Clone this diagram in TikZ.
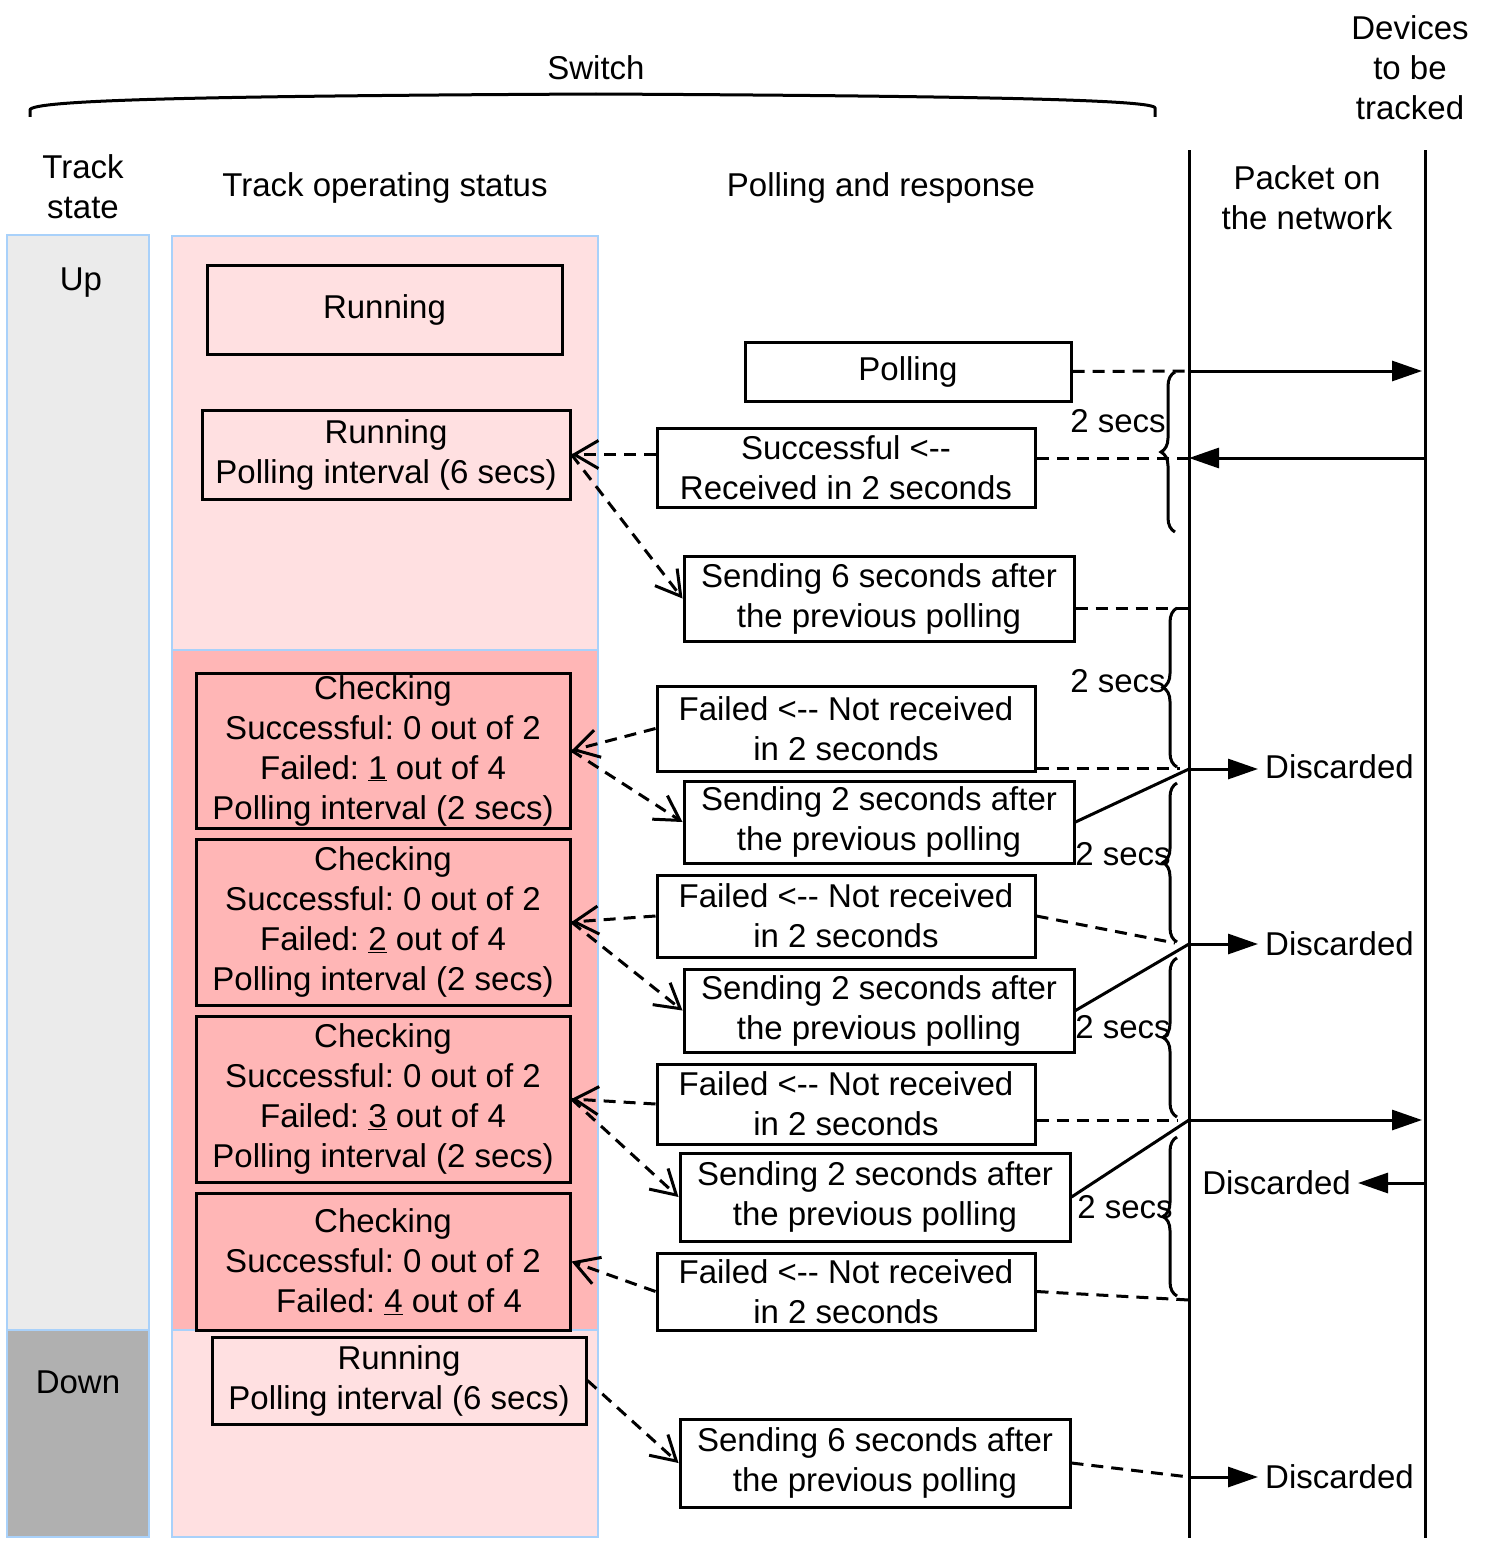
\documentclass[tikz,border=0pt]{standalone}
\usepackage{fontspec}
\setmainfont{Liberation Sans}
\usetikzlibrary{arrows.meta,decorations.pathreplacing,calc}
\definecolor{upgray}{HTML}{EBEBEB}
\definecolor{downgray}{HTML}{B0B0B0}
\definecolor{lpink}{HTML}{FFE0E1}
\definecolor{dpink}{HTML}{FFB6B6}
\definecolor{regborder}{HTML}{A9D1FA}
\frenchspacing
\begin{document}
\begin{tikzpicture}[x=1pt,y=-1pt,
  every node/.style={font=\fontsize{33}{40}\selectfont},
  region/.style={draw=regborder, line width=2.5pt},
  sbox/.style={draw=black, line width=3pt, align=center, inner sep=0pt, anchor=center},
  dline/.style={line width=3pt, dash pattern=on 12pt off 8pt},
  dconn/.style={dline, -{Straight Barb[length=24pt,width=28pt]}},
  sline/.style={line width=3pt},
  sarrow/.style={line width=3pt, -{Triangle[length=30pt,width=20pt]}},
  tbrace/.style={decorate, decoration={brace, amplitude=14pt}, line width=3pt},
  lbl/.style={inner sep=0pt, align=center}
]
\useasboundingbox (0,0) rectangle (1484,1544);

% header
\node[lbl] (switch) at (596,68) {Switch};
\draw[line width=3pt] (30,117) -- (30,110) .. controls (30,100) and (200,96) .. (596,94)
  .. controls (990,96) and (1155,100) .. (1155,108) -- (1155,117);
\node[lbl] (devices) at (1410,68) {Devices\\to be\\tracked};
\node[lbl] (trackstate) at (83,187) {Track\\state};
\node[lbl] (tos) at (385,188) {Track operating status};
\node[lbl] (par) at (881,188) {Polling and response};
\node[lbl] (pkt) at (1307,198) {Packet on\\the network};

% vertical lines
\coordinate (v1t) at (1189,150); \coordinate (v1b) at (1189,1538);
\coordinate (v2t) at (1425,150); \coordinate (v2b) at (1425,1538);
\draw[sline] (v1t) -- (v1b);
\draw[sline] (v2t) -- (v2b);

% regions
\path[region, fill=upgray] (7,235) rectangle (149,1330);
\path[region, fill=downgray] (7,1330) rectangle (149,1537);
\path[region, fill=lpink] (172,236) rectangle (598,650);
\path[region, fill=dpink] (172,650) rectangle (598,1330);
\path[region, fill=lpink] (172,1330) rectangle (598,1537);
\node[lbl] (up) at (81,283) {Up};
\node[lbl] (down) at (78,1382) {Down};

% status boxes
\node[sbox, fill=lpink, minimum width=355pt, minimum height=89pt] (run1) at (384.5,309.5) {Running};
\node[sbox, fill=lpink, minimum width=368pt, minimum height=89pt] (run2) at (386,454.5) {Running\\Polling interval (6 secs)};
\node[sbox, fill=dpink, minimum width=374pt, minimum height=155pt] (chk1) at (383,750.5) {Checking\\Successful: 0 out of 2\\Failed: \underline{1} out of 4\\Polling interval (2 secs)};
\node[sbox, fill=dpink, minimum width=374pt, minimum height=166pt] (chk2) at (383,922) {Checking\\Successful: 0 out of 2\\Failed: \underline{2} out of 4\\Polling interval (2 secs)};
\node[sbox, fill=dpink, minimum width=374pt, minimum height=166pt] (chk3) at (383,1099) {Checking\\Successful: 0 out of 2\\Failed: \underline{3} out of 4\\Polling interval (2 secs)};
\node[sbox, fill=dpink, minimum width=374pt, minimum height=137pt] (chk4) at (383,1261.5) {Checking\\Successful: 0 out of 2\\\hspace*{32pt}Failed: \underline{4} out of 4};
\node[sbox, fill=lpink, minimum width=374pt, minimum height=87pt] (run3) at (399,1380.5) {Running\\Polling interval (6 secs)};

% polling boxes
\node[sbox, fill=white, minimum width=326pt, minimum height=59pt] (poll) at (908,371.5) {Polling};
\node[sbox, fill=white, minimum width=378pt, minimum height=79pt] (succ) at (846,467.5) {Successful <-{}-\\Received in 2 seconds};
\node[sbox, fill=white, minimum width=390pt, minimum height=85pt] (send6) at (879,598.5) {Sending 6 seconds after\\the previous polling};
\node[sbox, fill=white, minimum width=378pt, minimum height=85pt] (fail1) at (846,728.5) {Failed <-{}- Not received\\in 2 seconds};
\node[sbox, fill=white, minimum width=390pt, minimum height=82pt] (send2a) at (879,822) {Sending 2 seconds after\\the previous polling};
\node[sbox, fill=white, minimum width=378pt, minimum height=82pt] (fail2) at (846,916) {Failed <-{}- Not received\\in 2 seconds};
\node[sbox, fill=white, minimum width=390pt, minimum height=83pt] (send2b) at (879,1010.5) {Sending 2 seconds after\\the previous polling};
\node[sbox, fill=white, minimum width=378pt, minimum height=80pt] (fail3) at (846,1104) {Failed <-{}- Not received\\in 2 seconds};
\node[sbox, fill=white, minimum width=390pt, minimum height=88pt] (send2c) at (875,1197) {Sending 2 seconds after\\the previous polling};
\node[sbox, fill=white, minimum width=378pt, minimum height=77pt] (fail4) at (846,1291.5) {Failed <-{}- Not received\\in 2 seconds};
\node[sbox, fill=white, minimum width=390pt, minimum height=88pt] (send6b) at (875,1463) {Sending 6 seconds after\\the previous polling};

% left dashed connectors
\draw[dconn] (succ.west |- run2.east) -- (run2.east);
\draw[dconn] (run2.east) -- (send6.west);
\draw[dconn] (fail1.west) -- (chk1.east);
\draw[dconn] (chk1.east) -- (send2a.west);
\draw[dconn] (fail2.west) -- (chk2.east);
\draw[dconn] (chk2.east) -- (send2b.west);
\draw[dconn] (fail3.west) -- (chk3.east);
\draw[dconn] (chk3.east) -- (send2c.west);
\draw[dconn] (fail4.west) -- (chk4.east);
\draw[dconn] (run3.east) -- (send6b.west);

% right side
\coordinate (p0) at (1189,371); \coordinate (p1) at (1422,371);
\draw[dline] (poll.east) -- (p0);
\draw[sarrow] (p0) -- (p1);
\coordinate (r1) at (1425,458); \coordinate (r0) at (1189,458);
\draw[sarrow] (r1) -- (r0);
\draw[dline] (r0) -- (succ.east |- r0);
\coordinate (s6r) at (1190,608);
\draw[dline] (send6.east |- s6r) -- (s6r);

\coordinate (j1) at (1189,769); \coordinate (j1e) at (1258,769); \coordinate (f1e) at (1180,768);
\draw[dline] (fail1.east |- f1e) -- (f1e);
\draw[sarrow] (j1) -- (j1e);
\node[lbl, anchor=west] (disc1) at (1265,767) {Discarded};
\draw[sline] (send2a.east) -- (j1);

\coordinate (f2e) at (1175,943);
\draw[dline] (fail2.east) -- (f2e);
\coordinate (j2) at (1189,944); \coordinate (j2e) at (1258,944);
\draw[sarrow] (j2) -- (j2e);
\node[lbl, anchor=west] (disc2) at (1265,944) {Discarded};
\draw[sline] (send2b.east) -- (j2);

\coordinate (j3) at (1189,1120); \coordinate (j3e) at (1422,1120); \coordinate (f3e) at (1177,1120);
\draw[dline] (fail3.east |- f3e) -- (f3e);
\draw[sarrow] (j3) -- (j3e);
\draw[sline] (send2c.east) -- (j3);
\coordinate (d4s) at (1425,1183); \coordinate (d4e) at (1358,1183);
\draw[sarrow] (d4s) -- (d4e);
\node[lbl, anchor=east] (disc3) at (1351,1183) {Discarded};

\coordinate (f4e) at (1189,1300);
\draw[dline] (fail4.east) -- (f4e);

\coordinate (j5) at (1189,1477); \coordinate (j5e) at (1258,1477);
\draw[dline] (send6b.east) -- (j5);
\draw[sarrow] (j5) -- (j5e);
\node[lbl, anchor=west] (disc4) at (1265,1477) {Discarded};

% braces
\draw[tbrace] (1175,532) -- (1175,372);
\draw[tbrace] (1177,767) -- (1177,608);
\draw[tbrace] (1177,942) -- (1177,783);
\draw[tbrace] (1177,1117) -- (1177,958);
\draw[tbrace] (1177,1296) -- (1177,1137);
\node[lbl] (t1) at (1118,421) {2 secs};
\node[lbl] (t2) at (1118,681) {2 secs};
\node[lbl] (t3) at (1123,854) {2 secs};
\node[lbl] (t4) at (1123,1027) {2 secs};
\node[lbl] (t5) at (1125,1207) {2 secs};
\end{tikzpicture}
\end{document}
